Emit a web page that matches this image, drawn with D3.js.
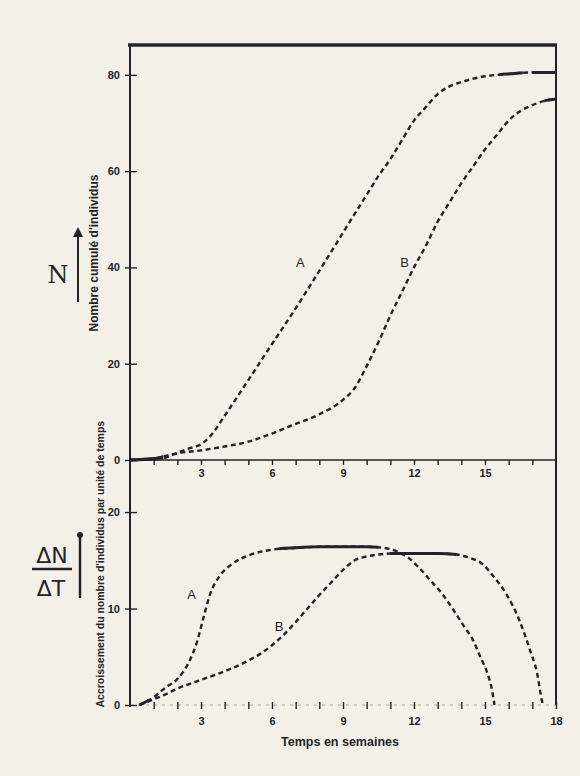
<!DOCTYPE html>
<html>
<head>
<meta charset="utf-8">
<script src="https://cdn.jsdelivr.net/npm/d3@7"></script>
<style>
  body { margin: 0; background: #f3f1e7; }
  svg { display: block; }
  .tk text { font-family: "Liberation Sans", sans-serif; font-weight: bold; font-size: 11px; fill: #222; }
  .tk line { stroke: #222; stroke-width: 1.4; }
</style>
</head>
<body>
<script>
// time in weeks
let cumA = [[0,0],[1,0.2],[1.5,0.5],[2,1.5],[2.5,2.4],[3,3.3],[3.4,5],[4,9.2],[5,16.6],[6,24.1],[7,31.5],[8,39.3],[9,47.2],[10,55.1],[10.5,59],[11,62.5],[11.5,66.5],[12,70.5],[12.5,73.3],[13,76],[13.5,77.6],[14,78.5],[14.5,79.2],[15,79.7],[15.5,80],[16,80.2],[17,80.5],[18,80.5]]
let cumB = [[0,0],[1,0.3],[2,1.4],[3,2],[4,2.8],[5,3.8],[6,5.5],[7,7.5],[8,9.5],[9,12.5],[9.5,15],[10,19.5],[10.5,24.5],[11,30],[11.5,35],[12,40],[12.5,44.5],[13,49.5],[13.5,53.5],[14,57.5],[14.5,61],[15,64.5],[15.5,67.5],[16,70.5],[16.5,72.5],[17,73.7],[17.5,74.6],[18,75]]
let rateA = [[0.4,0],[1,0.8],[1.5,1.8],[2,2.7],[2.5,4.5],[2.8,6.3],[3.1,9],[3.4,11.6],[3.8,13.4],[4.3,14.6],[5,15.5],[6,16.1],[7,16.3],[8,16.4],[9,16.4],[10,16.4],[10.7,16.3],[11.3,15.9],[11.8,15.2],[12.3,14],[12.7,12.9],[13.2,11.5],[13.6,10.1],[14.1,8.2],[14.5,6.7],[14.8,5],[15.1,3.3],[15.3,1.5],[15.4,0]]
let rateB = [[0.4,0],[1,0.6],[1.5,1.1],[2,1.7],[3,2.6],[4,3.5],[5,4.6],[5.5,5.3],[6,6.2],[6.5,7.3],[7,8.6],[7.5,10],[8,11.4],[8.5,12.7],[9,14],[9.5,15],[10,15.4],[10.5,15.6],[11,15.7],[12,15.7],[13,15.7],[13.8,15.6],[14.3,15.3],[14.9,14.6],[15.4,13.2],[15.9,11.5],[16.45,8.8],[16.9,5.7],[17.2,3.3],[17.4,0.5],[17.45,0]]

let xTicksTop = [3, 6, 9, 12, 15]
let xTicksBot = [3, 6, 9, 12, 15, 18]
let yTicksTop = [0, 20, 40, 60, 80]
let yTicksBot = [0, 10, 20]

let xLabel = "Temps en semaines"
let yLabelTop = "Nombre cumulé d'individus"
let yLabelBot = "Accroissement du nombre d'individus par unité de temps"

let ink = "#242424"
let svg = d3.select('body').append('svg')
  .attr('width', 580).attr('height', 776)

let x = d3.scaleLinear().domain([0, 18]).range([130, 556])
let yT = d3.scaleLinear().domain([0, 86.2]).range([460, 45])
let yB = d3.scaleLinear().domain([0, 25.4]).range([705, 460])

// frame
svg.append('line').attr('x1', x(0) - 2).attr('x2', x(18) + 1).attr('y1', yT(86.2)).attr('y2', yT(86.2))
  .style('stroke', ink).style('stroke-width', 3.5)
svg.append('line').attr('x1', x(0)).attr('x2', x(0)).attr('y1', yT(86.2)).attr('y2', yB(0) + 2)
  .style('stroke', ink).style('stroke-width', 2)
svg.append('line').attr('x1', x(18)).attr('x2', x(18)).attr('y1', yT(86.2)).attr('y2', yB(0))
  .style('stroke', ink).style('stroke-width', 2)
svg.append('line').attr('x1', x(0)).attr('x2', x(18)).attr('y1', yT(0)).attr('y2', yT(0))
  .style('stroke', ink).style('stroke-width', 1.6)
svg.append('line').attr('x1', x(0)).attr('x2', x(18)).attr('y1', yB(0)).attr('y2', yB(0))
  .style('stroke', '#8a8a85').style('stroke-width', 0.7).style('stroke-dasharray', '3,5')

// x axes
let fmt = (list) => (d) => list.includes(d) ? d : ''
let gxT = svg.append('g').attr('class', 'tk').attr('transform', `translate(0,${yT(0)})`)
  .call(d3.axisBottom(x).tickValues(d3.range(1, 18)).tickSize(5).tickPadding(4).tickFormat(fmt(xTicksTop)))
gxT.select('.domain').remove()

let gxB = svg.append('g').attr('class', 'tk').attr('transform', `translate(0,${yB(0)})`)
  .call(d3.axisBottom(x).tickValues(d3.range(1, 19)).tickSize(5).tickPadding(7).tickFormat(fmt(xTicksBot)))
gxB.select('.domain').remove()
gxB.selectAll('.tick line').attr('y1', -3).attr('y2', 4)

// y axes
let gyT = svg.append('g').attr('class', 'tk').attr('transform', `translate(${x(0)},0)`)
  .call(d3.axisLeft(yT).tickValues(yTicksTop).tickSize(5).tickPadding(5))
gyT.select('.domain').remove()
gyT.selectAll('.tick line').attr('x1', -5).attr('x2', 7)

let gyB = svg.append('g').attr('class', 'tk').attr('transform', `translate(${x(0)},0)`)
  .call(d3.axisLeft(yB).tickValues(yTicksBot).tickSize(5).tickPadding(5))
gyB.select('.domain').remove()
gyB.selectAll('.tick line').attr('x1', -5).attr('x2', 7)

// curves
let clipId = 0
let curve = (data, ys, solid) => {
  let line = d3.line().x(d => x(d[0])).y(d => ys(d[1])).curve(d3.curveMonotoneX)
  svg.append('path').attr('d', line(data))
    .style('fill', 'none').style('stroke', ink).style('stroke-width', 2.4)
    .style('stroke-dasharray', '5,3.5')
  solid.forEach(s => {
    let id = 'c' + (clipId++)
    svg.append('clipPath').attr('id', id).append('rect')
      .attr('x', x(s[0])).attr('width', x(s[1]) - x(s[0]))
      .attr('y', 0).attr('height', 776)
    svg.append('path').attr('d', line(data)).attr('clip-path', `url(#${id})`)
      .style('fill', 'none').style('stroke', ink).style('stroke-width', 3)
  })
}

curve(cumA, yT, [[0, 1.4], [15.6, 16.6], [17, 18]])
curve(cumB, yT, [[0, 1.4], [17.5, 18]])
curve(rateA, yB, [[0.4, 0.8], [6.3, 10.5]])
curve(rateB, yB, [[11, 13.8]])

// curve labels
let lab = (t, v, ys, s) => svg.append('text').attr('x', x(t)).attr('y', ys(v))
  .attr('text-anchor', 'middle')
  .style('font-family', '"Liberation Sans", sans-serif').style('font-size', '13px').style('fill', ink)
  .text(s)
lab(7.2, 40, yT, 'A')
lab(11.6, 40, yT, 'B')
lab(2.6, 11, yB, 'A')
lab(6.3, 7.7, yB, 'B')

// axis titles
svg.append('text').attr('x', 340).attr('y', 746).attr('text-anchor', 'middle')
  .style('font-family', '"Liberation Sans", sans-serif').style('font-weight', 'bold')
  .style('font-size', '12.5px').style('fill', ink).text(xLabel)

svg.append('text').attr('transform', `translate(98,${yT(43)}) rotate(-90)`).attr('text-anchor', 'middle')
  .style('font-family', '"Liberation Sans", sans-serif').style('font-weight', 'bold')
  .style('font-size', '12px').style('fill', ink).text(yLabelTop)

svg.append('text').attr('transform', `translate(104,${yB(14.6)}) rotate(-90)`).attr('text-anchor', 'middle')
  .style('font-family', '"Liberation Sans", sans-serif').style('font-weight', 'bold')
  .style('font-size', '10.5px').style('fill', ink).text(yLabelBot)

// symbols N and dN/dT with arrows
svg.append('defs').append('marker').attr('id', 'ah').attr('viewBox', '0 0 10 10')
  .attr('refX', 5).attr('refY', 5).attr('markerWidth', 5).attr('markerHeight', 5).attr('orient', 'auto')
  .append('path').attr('d', 'M0,0 L10,5 L0,10 z').style('fill', ink)

svg.append('text').attr('x', 58).attr('y', 283).attr('text-anchor', 'middle')
  .style('font-family', '"DejaVu Serif", serif').style('font-size', '24px').style('fill', ink).text('N')
svg.append('line').attr('x1', 78).attr('x2', 78).attr('y1', 302).attr('y2', 232)
  .style('stroke', ink).style('stroke-width', 2).attr('marker-end', 'url(#ah)')

svg.append('text').attr('x', 52).attr('y', 563).attr('text-anchor', 'middle')
  .style('font-family', '"DejaVu Sans", sans-serif').style('font-size', '22px').style('fill', ink).text('ΔN')
svg.append('line').attr('x1', 32).attr('x2', 72).attr('y1', 569).attr('y2', 569)
  .style('stroke', ink).style('stroke-width', 2.5)
svg.append('text').attr('x', 51).attr('y', 596).attr('text-anchor', 'middle')
  .style('font-family', '"DejaVu Sans", sans-serif').style('font-size', '22px').style('fill', ink).text('ΔT')
svg.append('line').attr('x1', 80).attr('x2', 80).attr('y1', 598).attr('y2', 536)
  .style('stroke', ink).style('stroke-width', 2.5)
svg.append('circle').attr('cx', 80).attr('cy', 535).attr('r', 3).style('fill', ink)
</script>
</body>
</html>
